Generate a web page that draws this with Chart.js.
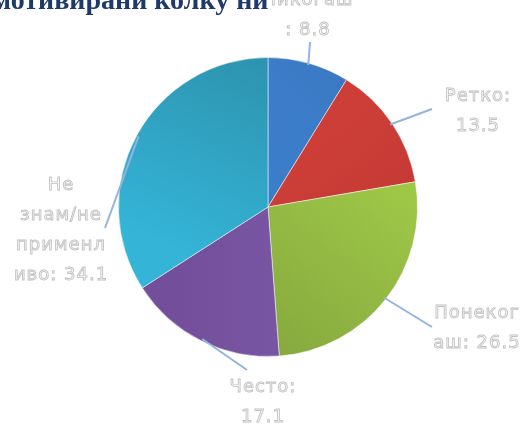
<!DOCTYPE html>
<html>
<head>
<meta charset="utf-8">
<script src="https://cdn.jsdelivr.net/npm/chart.js@4"></script>
<style>
    html, body { margin: 0; padding: 0; background: #fff; overflow: hidden; }
    #wrap { position: relative; width: 525px; height: 425px; }
    #title {
        position: absolute; left: -8px; top: -16px; white-space: nowrap;
        font: bold 28px "Liberation Serif", serif; color: #1f3a6a;
    }
</style>
</head>
<body>
<div id="wrap">
    <canvas id="pieChart" width="525" height="425"></canvas>
    <div id="title">мотивирани колку ни</div>
</div>
<script>
const categories = ['Никогаш', 'Ретко', 'Понекогаш', 'Често', 'Не знам/не применливо'];
const values = [8.8, 13.5, 26.5, 17.1, 34.1];
// label text as it wraps in the original
const labelLines = [
    ['Никогаш', ': 8.8'],
    ['Ретко:', '13.5'],
    ['Понеког', 'аш: 26.5'],
    ['Често:', '17.1'],
    ['Не', 'знам/не', 'применл', 'иво: 34.1']
];
const lightColors = ['#3c7dc9', '#cd3e38', '#9ec747', '#7c59a8', '#34b4d7'];
const darkColors = ['#3a78c3', '#c43934', '#88aa3f', '#734f9b', '#2d93ae'];

// shading direction per slice, light end -> dark end (fractions of radius from centre)
const shadeDirs = [
    [0.2, -0.6, 0.5, -0.9],
    [0.4, -0.5, 0.9, 0.1],
    [0.9, -0.1, 0.1, 0.95],
    [0.5, 0.6, -0.6, 0.6],
    [-0.6, 0.3, 0.0, -1.0]
];

// where each leader line ends and where its text sits (offsets from pie centre)
const labelSpots = [
    { lx: 42, ly: -165, tx: 40, ty: -207 },
    { lx: 164, ly: -98, tx: 210, ty: -111 },
    { lx: 164, ly: 120, tx: 209, ty: 106 },
    { lx: -21, ly: 163, tx: -5, ty: 180 },
    { lx: -163, ly: 21, tx: -207, ty: -22 }
];

function sliceFill(context) {
    const chart = context.chart;
    const area = chart.chartArea;
    const i = context.dataIndex;
    if (!area) return lightColors[i];
    const cx = (area.left + area.right) / 2;
    const cy = (area.top + area.bottom) / 2;
    const r = Math.min(area.right - area.left, area.bottom - area.top) / 2;
    const d = shadeDirs[i];
    const g = chart.ctx.createLinearGradient(cx + d[0] * r, cy + d[1] * r, cx + d[2] * r, cy + d[3] * r);
    g.addColorStop(0, lightColors[i]);
    g.addColorStop(1, darkColors[i]);
    return g;
}

const outsideLabels = {
    id: 'outsideLabels',
    afterDatasetsDraw(chart) {
        const ctx = chart.ctx;
        const meta = chart.getDatasetMeta(0);
        meta.data.forEach((arc, i) => {
            const mid = (arc.startAngle + arc.endAngle) / 2;
            const sx = arc.x + Math.cos(mid) * (arc.outerRadius - 2);
            const sy = arc.y + Math.sin(mid) * (arc.outerRadius - 2);
            const spot = labelSpots[i];
            ctx.save();
            ctx.strokeStyle = '#94b3dd';
            ctx.lineWidth = 2;
            ctx.beginPath();
            ctx.moveTo(sx, sy);
            ctx.lineTo(arc.x + spot.lx, arc.y + spot.ly);
            ctx.stroke();

            ctx.font = '18px "DejaVu Sans"';
            ctx.letterSpacing = '1px';
            ctx.textAlign = 'center';
            ctx.textBaseline = 'middle';
            ctx.lineWidth = 0.9;
            ctx.strokeStyle = '#c2c2c2';
            ctx.fillStyle = '#ffffff';
            labelLines[i].forEach((line, j) => {
                const y = arc.y + spot.ty + j * 30;
                ctx.fillText(line, arc.x + spot.tx, y);
                ctx.strokeText(line, arc.x + spot.tx, y);
            });
            ctx.restore();
        });
    }
};

new Chart(document.getElementById('pieChart'), {
    type: 'pie',
    data: {
        labels: categories,
        datasets: [{
            data: values,
            backgroundColor: sliceFill,
            borderColor: 'rgba(255,255,255,0.5)',
            borderWidth: 1,
            hoverOffset: 0
        }]
    },
    options: {
        responsive: false,
        animation: false,
        layout: { padding: { left: 36, right: 25, top: 57, bottom: 68 } },
        plugins: {
            legend: { display: false },
            tooltip: { enabled: false }
        }
    },
    plugins: [outsideLabels]
});
</script>
</body>
</html>
